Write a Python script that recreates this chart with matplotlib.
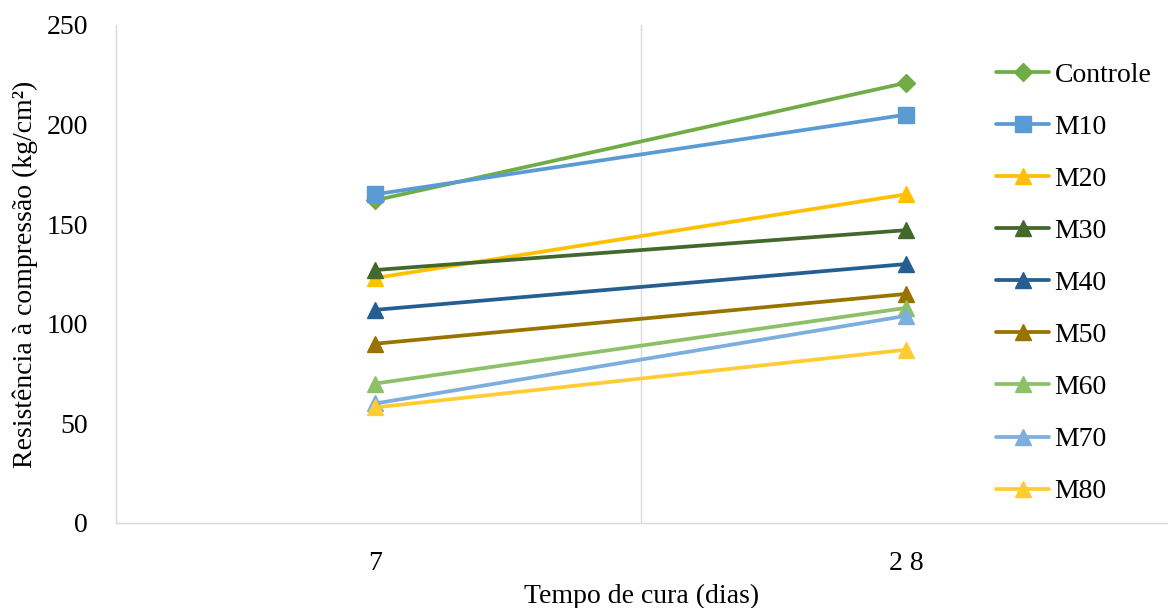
import matplotlib
matplotlib.use("Agg")
import matplotlib.pyplot as plt

categories = ["7", "2 8"]
series_names = ["Controle", "M10", "M20", "M30", "M40", "M50", "M60", "M70", "M80"]
controle = [162, 221]
m10 = [165, 205]
m20 = [123, 165]
m30 = [127, 147]
m40 = [107, 130]
m50 = [90, 115]
m60 = [70, 108]
m70 = [60, 104]
m80 = [58, 87]
values = [controle, m10, m20, m30, m40, m50, m60, m70, m80]
colors = ["#70AD47", "#5B9BD5", "#FFC000", "#43682B", "#255E91",
          "#997300", "#8CC168", "#7CAFDD", "#FFCD33"]
markers = ["D", "s", "^", "^", "^", "^", "^", "^", "^"]
msizes = [9.5, 11.5, 12, 12, 12, 12, 12, 12, 12]

plt.rcParams['font.family'] = ['Liberation Serif', 'DejaVu Serif']
FS = 20

fig = plt.figure(figsize=(11.68, 6.08), dpi=100)
ax = fig.add_axes([116/1168, 1 - 523/608, 1052/1168, 498/608])

x = list(range(len(categories)))
for name, vals, c, m, ms in zip(series_names, values, colors, markers, msizes):
    ax.plot(x, vals, color=c, lw=2.7, marker=m, markersize=ms,
            markeredgecolor=c, label=name, solid_capstyle='round')

ax.set_xlim(-0.488, 1.493)
ax.set_ylim(0, 250)
ax.set_yticks([0, 50, 100, 150, 200, 250])
ax.set_xticks(x)
ax.set_xticklabels(categories)
ax.tick_params(axis='both', length=0, labelsize=FS)
ax.tick_params(axis='y', pad=20)
ax.tick_params(axis='x', pad=20)
ax.axvline(0.5, color='#D9D9D9', lw=1, zorder=0)
for s in ['top', 'right']:
    ax.spines[s].set_visible(False)
for s in ['left', 'bottom']:
    ax.spines[s].set_color('#D9D9D9')
    ax.spines[s].set_linewidth(1)

ax.set_xlabel("Tempo de cura (dias)", fontsize=FS, labelpad=6)
ax.set_ylabel("Resistência à compressão (kg/cm²)", fontsize=FS, labelpad=6)

leg = ax.legend(loc='upper left', bbox_to_anchor=(869/1052, 1 - 26/498),
                frameon=False, fontsize=FS, handlelength=1.9,
                handletextpad=0.2, labelspacing=0.96, borderaxespad=0)

fig.savefig("out.png", dpi=100)
